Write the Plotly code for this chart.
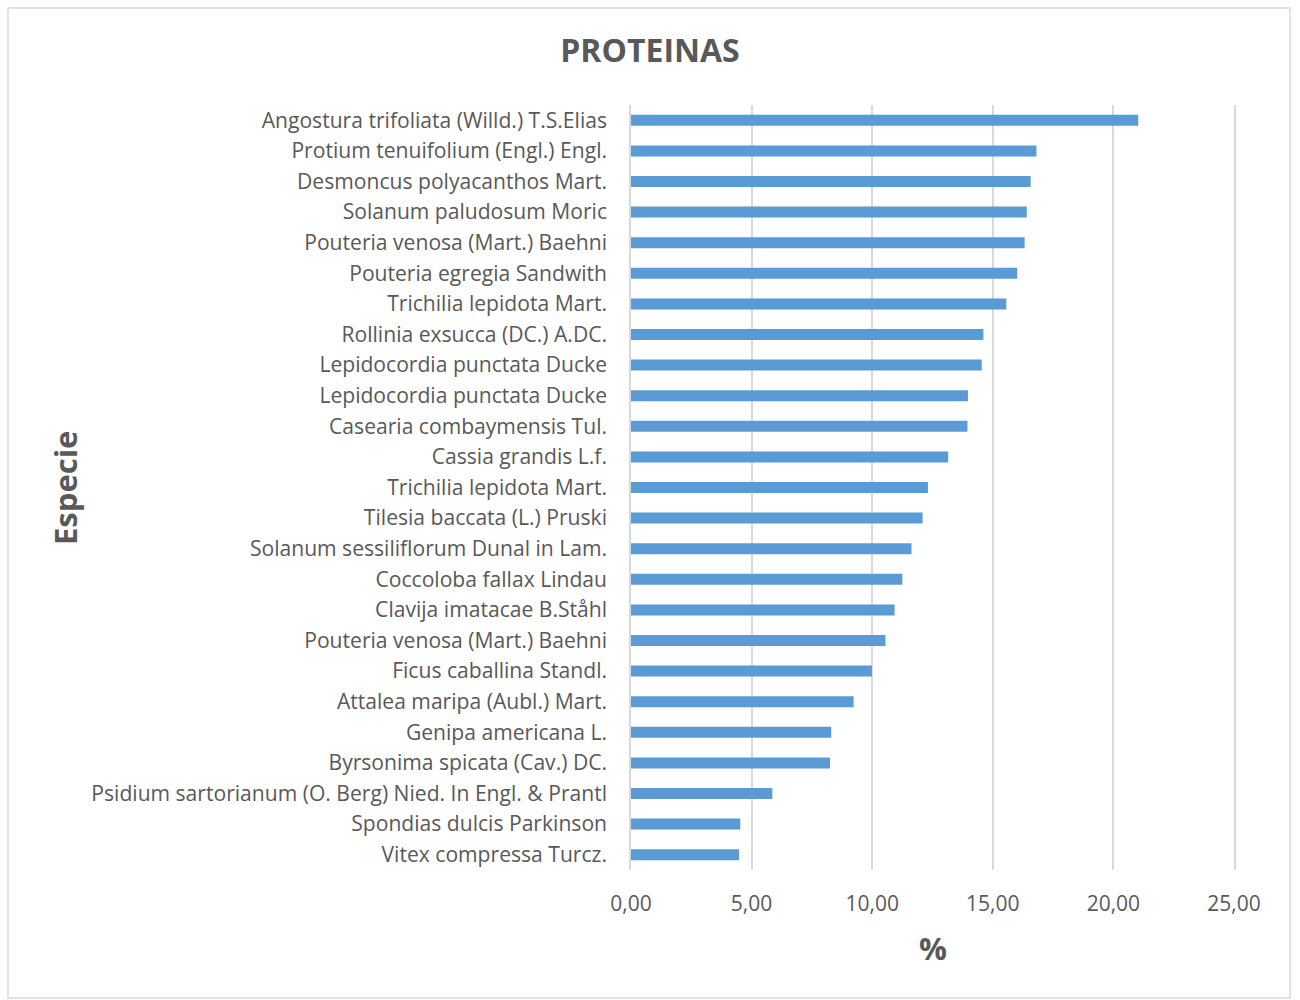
import plotly.graph_objects as go

species = [
    "Angostura trifoliata (Willd.) T.S.Elias",
    "Protium tenuifolium (Engl.) Engl.",
    "Desmoncus polyacanthos Mart.",
    "Solanum paludosum Moric",
    "Pouteria venosa (Mart.) Baehni",
    "Pouteria egregia Sandwith",
    "Trichilia lepidota Mart.",
    "Rollinia exsucca (DC.) A.DC.",
    "Lepidocordia punctata Ducke",
    "Lepidocordia punctata Ducke",
    "Casearia combaymensis Tul.",
    "Cassia grandis L.f.",
    "Trichilia lepidota Mart.",
    "Tilesia baccata (L.) Pruski",
    "Solanum sessiliflorum Dunal in Lam.",
    "Coccoloba fallax Lindau",
    "Clavija imatacae B.Ståhl",
    "Pouteria venosa (Mart.) Baehni",
    "Ficus caballina Standl.",
    "Attalea maripa (Aubl.) Mart.",
    "Genipa americana L.",
    "Byrsonima spicata (Cav.) DC.",
    "Psidium sartorianum (O. Berg) Nied. In Engl. & Prantl",
    "Spondias dulcis Parkinson",
    "Vitex compressa Turcz.",
]
protein = [21.03, 16.81, 16.57, 16.41, 16.32, 16.01, 15.56, 14.61, 14.54, 13.97,
           13.95, 13.15, 12.31, 12.09, 11.63, 11.25, 10.93, 10.55, 9.99, 9.23,
           8.30, 8.25, 5.86, 4.53, 4.48]
x_ticks = [0, 5, 10, 15, 20, 25]

TXT = "#595959"
FONT = "Open Sans"
GRID = "#D9D9D9"

n = len(species)
pos = [n - 1 - i for i in range(n)]  # first species at top

fig = go.Figure(go.Bar(
    y=pos, x=protein, orientation="h",
    marker=dict(color="#5B9BD5", line=dict(width=0)),
    width=0.36,
))

fig.update_layout(
    width=1300, height=1000,
    margin=dict(l=631, r=66, t=105, b=130),
    paper_bgcolor="white", plot_bgcolor="white",
    separators=",.",
    showlegend=False,
    font=dict(family=FONT, color=TXT, size=21),
    title=dict(text="<b>PROTEINAS</b>", x=0.5, xref="container", xanchor="center",
               y=1 - 51 / 1000, yanchor="middle",
               font=dict(family=FONT, size=32, color=TXT)),
    shapes=[dict(type="rect", xref="paper", yref="paper",
                 x0=(8 - 631) / 603, x1=(1290 - 631) / 603,
                 y0=(870 - 998) / 765, y1=(870 - 8) / 765,
                 line=dict(color=GRID, width=1.5), fillcolor="rgba(0,0,0,0)",
                 layer="below")],
    annotations=[
        dict(text="<b>%</b>", xref="paper", yref="paper",
             x=0.5, y=(870 - 948) / 765, xanchor="center", yanchor="middle",
             showarrow=False, font=dict(family=FONT, size=31, color=TXT)),
        dict(text="<b>Especie</b>", xref="paper", yref="paper",
             x=(65 - 631) / 603, y=(870 - 488) / 765, xanchor="center", yanchor="middle",
             textangle=-90, showarrow=False, font=dict(family=FONT, size=31, color=TXT)),
    ],
)

fig.update_xaxes(range=[0, 25], tickvals=x_ticks, tickformat=".2f",
                 showgrid=True, gridcolor=GRID, gridwidth=1.5,
                 zeroline=False, showline=False, ticks="",
                 ticklabelstandoff=19,
                 tickfont=dict(family=FONT, size=21, color=TXT))
fig.update_yaxes(range=[-0.5, n - 0.5], tickvals=pos, ticktext=species,
                 showgrid=False, zeroline=False,
                 showline=True, mirror=True, linecolor=GRID, linewidth=1.5,
                 ticks="",
                 ticklabelstandoff=18,
                 tickfont=dict(family=FONT, size=21.1, color=TXT))

fig.write_html("out.html")
